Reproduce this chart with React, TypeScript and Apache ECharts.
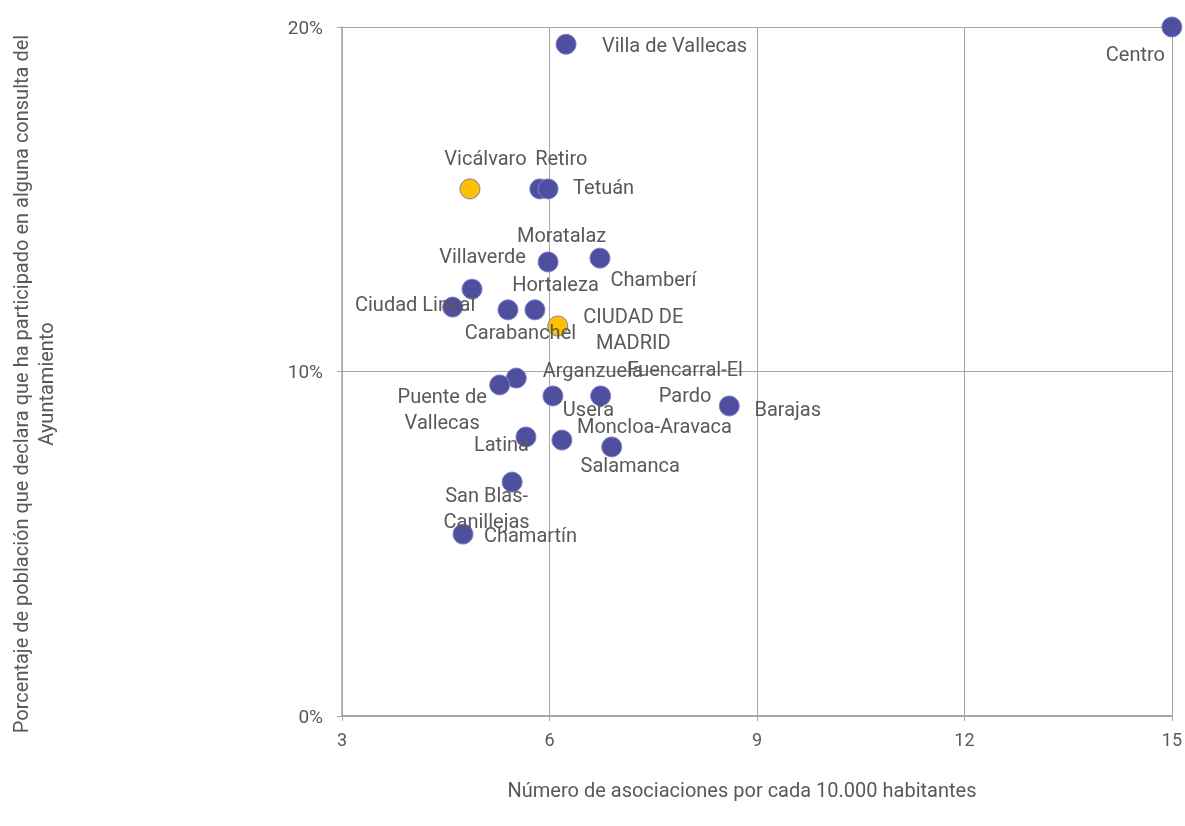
import React, { useEffect, useRef } from "react";
import * as echarts from "echarts";

const districts = [
  "Centro", "Villa de Vallecas", "Vicálvaro", "Retiro", "Tetuán", "Moratalaz",
  "Chamberí", "Villaverde", "Ciudad Lineal", "Hortaleza", "Carabanchel",
  "CIUDAD DE MADRID", "Arganzuela", "Puente de Vallecas", "Usera",
  "Fuencarral-El Pardo", "Barajas", "Latina", "Moncloa-Aravaca", "Salamanca",
  "San Blas-Canillejas", "Chamartín",
];
const asociaciones = [
  15.0, 6.24, 4.85, 5.86, 5.98, 5.98, 6.73, 4.88, 4.60, 5.79, 5.40,
  6.12, 5.52, 5.28, 6.05, 6.74, 8.60, 5.66, 6.18, 6.90, 5.46, 4.75,
];
const participacion = [
  20.0, 19.5, 15.3, 15.3, 15.3, 13.18, 13.29, 12.39, 11.87, 11.79, 11.79,
  11.32, 9.81, 9.61, 9.29, 9.29, 9.0, 8.10, 8.01, 7.81, 6.79, 5.28,
];
const highlighted = ["Vicálvaro", "CIUDAD DE MADRID"];
const labelTexts: Record<string, string> = {
  "CIUDAD DE MADRID": "CIUDAD DE\nMADRID",
  "Puente de Vallecas": "Puente de\nVallecas",
  "Fuencarral-El Pardo": "Fuencarral-El\nPardo",
  "San Blas-Canillejas": "San Blas-\nCanillejas",
};
const xTicks = [3, 6, 9, 12, 15];
const yTicks = [0, 10, 20];

// label offsets (px) from point centre
const labelOffsets: Record<string, [number, number]> = {
  "Centro": [-36, 27],
  "Villa de Vallecas": [109, 1],
  "Vicálvaro": [16, -30],
  "Retiro": [22, -30],
  "Tetuán": [56, -1],
  "Moratalaz": [14, -26],
  "Chamberí": [54, 21],
  "Villaverde": [11, -33],
  "Ciudad Lineal": [-37, -3],
  "Hortaleza": [21, -25],
  "Carabanchel": [13, 23],
  "CIUDAD DE MADRID": [76, 3],
  "Arganzuela": [77, -8],
  "Puente de Vallecas": [-57, 25],
  "Usera": [36, 14],
  "Fuencarral-El Pardo": [85, -13],
  "Barajas": [59, 4],
  "Latina": [-24, 8],
  "Moncloa-Aravaca": [93, -14],
  "Salamanca": [19, 19],
  "San Blas-Canillejas": [-25, 26],
  "Chamartín": [68, 1],
};

const SYMBOL = 20;
const PURPLE = "#4f4fa0";
const YELLOW = "#ffc000";
const TEXT = "#595959";
const GRID = "#a6a6a6";

export default function App() {
  const ref = useRef<HTMLDivElement>(null);
  useEffect(() => {
    if (!ref.current) return;
    const chart = echarts.init(ref.current, undefined, { renderer: "svg" });
    const data = districts.map((name, i) => {
      const hi = highlighted.includes(name);
      const off = labelOffsets[name] || [0, 0];
      return {
        name,
        value: [asociaciones[i], participacion[i]],
        itemStyle: {
          color: hi ? YELLOW : PURPLE,
          borderColor: hi ? "#7a7ac0" : "#8080c8",
          borderWidth: 1,
          opacity: 1,
        },
        label: {
          show: true,
          position: [SYMBOL / 2 + off[0], SYMBOL / 2 + off[1]],
          align: "center",
          verticalAlign: "middle",
          formatter: labelTexts[name] || name,
        },
      };
    });
    chart.setOption({
      animation: false,
      grid: { left: 342, right: 13, top: 27, bottom: 110 },
      xAxis: {
        type: "value",
        min: xTicks[0],
        max: xTicks[xTicks.length - 1],
        interval: 3,
        axisLine: { show: true, onZero: false, lineStyle: { color: GRID, width: 2 } },
        axisTick: { show: true, length: 5, lineStyle: { color: GRID } },
        splitLine: { show: true, lineStyle: { color: GRID, width: 1 } },
        axisLabel: {
          color: TEXT,
          fontFamily: "Roboto",
          fontSize: 18,
          margin: 14,
        },
      },
      yAxis: {
        type: "value",
        min: yTicks[0],
        max: yTicks[yTicks.length - 1],
        interval: 10,
        axisLine: { show: true, lineStyle: { color: GRID, width: 1.5 } },
        axisTick: { show: true, length: 5, lineStyle: { color: GRID } },
        splitLine: { show: true, lineStyle: { color: GRID, width: 1 } },
        axisLabel: {
          color: TEXT,
          fontFamily: "Roboto",
          fontSize: 19,
          margin: 19,
          formatter: "{value}%",
        },
      },
      graphic: [
        {
          type: "text",
          x: 742,
          y: 790,
          style: {
            text: "Número de asociaciones por cada 10.000 habitantes",
            fill: TEXT,
            fontFamily: "Roboto",
            fontSize: 20,
            align: "center",
            verticalAlign: "middle",
          },
        },
        {
          type: "text",
          x: 33,
          y: 384,
          rotation: Math.PI / 2,
          style: {
            text: "Porcentaje de población que declara que ha participado en alguna consulta del\nAyuntamiento",
            fill: TEXT,
            fontFamily: "Roboto",
            fontSize: 20,
            align: "center",
            verticalAlign: "middle",
            lineHeight: 25,
          },
        },
      ],
      series: [
        {
          type: "scatter",
          symbolSize: SYMBOL,
          data,
          label: {
            color: TEXT,
            fontFamily: "Roboto",
            fontSize: 20,
            lineHeight: 26,
          },
        },
      ],
    });
    return () => chart.dispose();
  }, []);
  return (
    <div
      ref={ref}
      style={{ position: "fixed", left: 0, top: 0, width: 1185, height: 826 }}
    />
  );
}
